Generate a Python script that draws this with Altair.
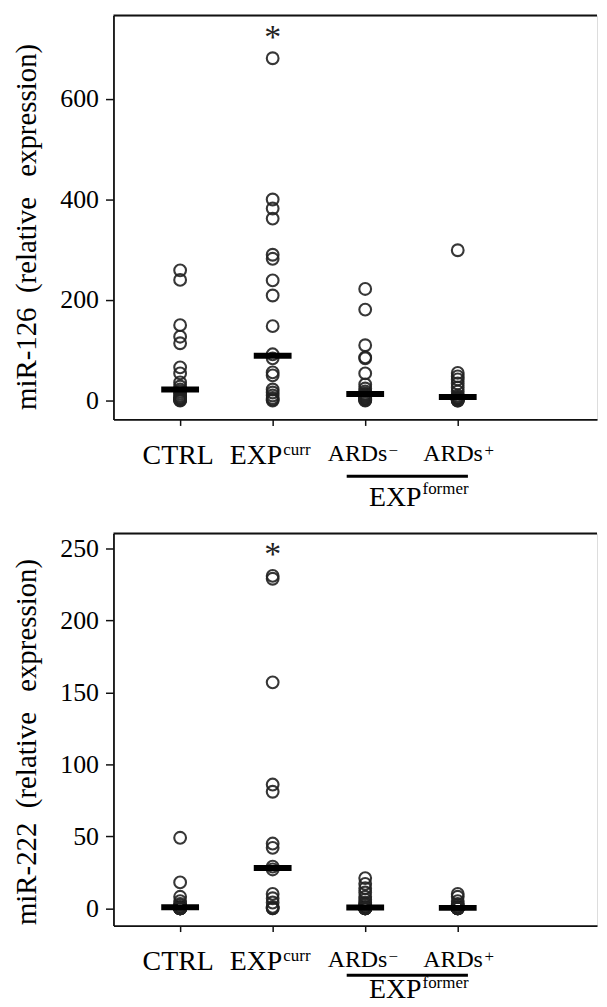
import altair as alt
import pandas as pd

FONT = "Liberation Serif"
INK = "#111111"

# ---------------- data ----------------
categories = ["CTRL", "EXPcurr", "ARDs-", "ARDs+"]
cat_pos = [1, 2, 3, 4]
cat_base = ["CTRL", "EXP", "ARDs", "ARDs"]
cat_sup = ["", "curr", "\u2212", "+"]
group_base = "EXP"
group_sup = "former"
group_span = [2.80, 4.11]          # EXP-former bracket, in category units

mir126_ctrl = [259, 240, 150, 127, 114, 66, 54, 36, 28, 22, 18, 14, 10, 7, 5, 3, 2, 1, 0]
mir126_expcurr = [681, 400, 382, 362, 290, 282, 239, 209, 148, 92, 84, 56, 50, 22, 16, 10, 5, 2, 0]
mir126_ards_neg = [222, 181, 110, 86, 84, 54, 32, 24, 18, 14, 12, 10, 8, 6, 4, 3, 2, 1, 0]
mir126_ards_pos = [299, 55, 48, 42, 34, 26, 18, 10, 7, 5, 4, 3, 2, 1, 0, 0]
mir126_medians = [22, 89, 13, 7]
mir126_star = 731
mir126_ticks = [0, 200, 400, 600]
mir126_domain = [-37.6, 766]

mir222_ctrl = [49, 18, 8, 5, 3, 2, 1, 0.5, 0.3, 0.2, 0.1, 0, 0, 0, 0, 0, 0, 0]
mir222_expcurr = [231, 229, 157, 86, 81, 45, 42, 29, 27, 10, 7, 4, 1, 0, 0]
mir222_ards_neg = [21, 17, 14, 11, 8, 6, 4, 3, 2, 1, 0.5, 0.3, 0.2, 0, 0, 0, 0, 0, 0]
mir222_ards_pos = [10, 8, 5, 3, 2, 1, 0.5, 0.2, 0, 0, 0, 0, 0, 0]
mir222_medians = [0.8, 28, 0.5, 0.3]
mir222_star = 249
mir222_ticks = [0, 50, 100, 150, 200, 250]
mir222_domain = [-12, 260.4]

title_126 = "miR-126\u2002(relative\u2002\u2009expression)"
title_222 = "miR-222\u2002(relative\u2002\u2009expression)"

# ---------------- layout ----------------
W = 486
XDOM = [0.2796, 5.505]


def points_df(lists):
    rows = []
    for p, vals in zip(cat_pos, lists):
        for v in vals:
            rows.append({"pos": p, "value": v})
    return pd.DataFrame(rows)


def panel(lists, medians, star, ydom, yticks, H, title, off, title_shift):
    xs = alt.Scale(domain=XDOM, nice=False, zero=False)
    ys = alt.Scale(domain=ydom, nice=False, zero=False)
    xaxis = alt.Axis(values=cat_pos, labels=False, tickSize=6, tickWidth=1.5,
                     tickColor=INK, domainColor=INK, domainWidth=1.8,
                     grid=False, title=None)
    yaxis = alt.Axis(values=yticks, tickSize=8, tickWidth=1.5, tickColor=INK,
                     domainColor=INK, domainWidth=1.8, grid=False,
                     labelFont=FONT, labelFontSize=26, labelColor="black",
                     labelPadding=7, title=title, titleFont=FONT,
                     titleFontSize=29, titleFontWeight="normal",
                     titleColor="black", titleBaseline="bottom",
                     titleX=-72, titleY=H / 2 + title_shift)
    X = alt.X("pos:Q", scale=xs, axis=xaxis)
    Y = alt.Y("value:Q", scale=ys, axis=yaxis)

    pts = alt.Chart(points_df(lists)).mark_point(
        shape="circle", filled=False, size=140, strokeWidth=2.1,
        color="#222222", opacity=0.9).encode(x=X, y=Y)

    med = alt.Chart(pd.DataFrame({"pos": cat_pos, "value": medians})).mark_tick(
        orient="horizontal", size=38, thickness=6, color="black",
        opacity=1).encode(x=X, y=Y)

    st = alt.Chart(pd.DataFrame({"pos": [2], "value": [star]})).mark_text(
        text="*", font=FONT, fontSize=34, color="#222", baseline="alphabetic",
        dy=15).encode(x=X, y=Y)

    top_rule = alt.Chart(pd.DataFrame({"a": [0]})).mark_rule(
        color=INK, strokeWidth=2).encode(
        x=alt.value(0), x2=alt.value(W), y=alt.value(0))

    layers = [pts, med, st, top_rule]

    # category labels
    lab_df = pd.DataFrame({"pos": cat_pos, "base": cat_base, "sup": cat_sup})
    base_style = [  # (align, dx, fontSize, y-offset key)
        ("center", -2, 28, "base"),
        ("right", 9.7, 28, "base"),
        ("right", 22.3, 24, "ards"),
        ("right", 25.3, 24, "ards"),
    ]
    sup_style = [
        None,
        ("left", 10.7, 17, "sup"),
        ("left", 23.3, 17, "ards_sup"),
        ("left", 27, 17, "ards_sup"),
    ]
    for i in range(4):
        row = lab_df.iloc[[i]]
        a, dx, fs, k = base_style[i]
        layers.append(alt.Chart(row).mark_text(
            align=a, dx=dx, fontSize=fs, font=FONT, color="black",
            baseline="alphabetic").encode(
            x=X, y=alt.value(H + off[k]), text="base:N"))
        if sup_style[i] is not None:
            a, dx, fs, k = sup_style[i]
            layers.append(alt.Chart(row).mark_text(
                align=a, dx=dx, fontSize=fs, font=FONT, color="black",
                baseline="alphabetic").encode(
                x=X, y=alt.value(H + off[k]), text="sup:N"))

    br_df = pd.DataFrame({"pos": [group_span[0]], "pos2": [group_span[1]]})
    layers.append(alt.Chart(br_df).mark_rule(color="black", strokeWidth=3).encode(
        x=X, x2="pos2:Q", y=alt.value(H + off["line"])))

    g_df = pd.DataFrame({"pos": [(group_span[0] + group_span[1]) / 2],
                         "base": [group_base], "sup": [group_sup]})
    layers.append(alt.Chart(g_df).mark_text(
        align="right", dx=14.3, fontSize=28, font=FONT, color="black",
        baseline="alphabetic").encode(
        x=X, y=alt.value(H + off["gbase"]), text="base:N"))
    layers.append(alt.Chart(g_df).mark_text(
        align="left", dx=15.3, fontSize=17, font=FONT, color="black",
        baseline="alphabetic").encode(
        x=X, y=alt.value(H + off["gsup"]), text="sup:N"))

    return alt.layer(*layers).properties(width=W, height=H)


H1 = 406
H2 = 394
off_top = {"base": 45, "sup": 36, "ards": 42, "ards_sup": 37, "line": 57,
           "gbase": 87, "gsup": 74.7}
off_bot = {"base": 45, "sup": 36, "ards": 42, "ards_sup": 37, "line": 50,
           "gbase": 73, "gsup": 63}

top = panel([mir126_ctrl, mir126_expcurr, mir126_ards_neg, mir126_ards_pos],
            mir126_medians, mir126_star, mir126_domain, mir126_ticks, H1,
            title_126, off_top, 9)
bottom = panel([mir222_ctrl, mir222_expcurr, mir222_ards_neg, mir222_ards_pos],
               mir222_medians, mir222_star, mir222_domain, mir222_ticks, H2,
               title_222, off_bot, 12)

chart = alt.vconcat(top, bottom, spacing=114.7, bounds="flush").properties(
    padding={"left": 4, "top": 3, "right": 0, "bottom": 0},
).configure_view(strokeWidth=0).configure(background="white")

chart.save("out.html", embed_options={"renderer": "svg", "actions": False})
